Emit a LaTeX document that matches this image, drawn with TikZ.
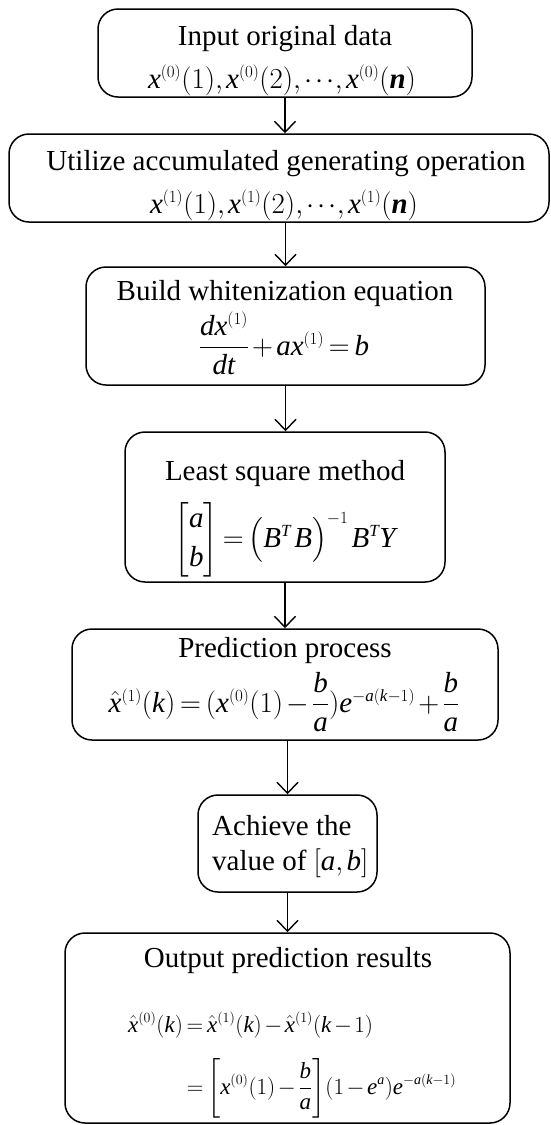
\RequirePackage{fix-cm}
\documentclass[tikz,border=0pt]{standalone}
\usepackage{amsmath}
\usepackage{fontspec}
\setmainfont{Liberation Serif}
\newfontfamily\timesfam{Liberation Serif}[NFSSFamily=mtimes]
\DeclareSymbolFont{operators}{TU}{mtimes}{m}{n}
\DeclareSymbolFont{tletters}{TU}{mtimes}{m}{it}
\DeclareSymbolFont{cmaccents}{OT1}{cmr}{m}{n}
\DeclareMathAccent{\hat}{\mathalpha}{cmaccents}{"5E}
\DeclareMathSizes{29}{29}{17}{13}
\DeclareMathSizes{23}{23}{14}{10}
\makeatletter
\def\tl@def#1{\ifx\relax#1\else\DeclareMathSymbol{#1}{\mathalpha}{tletters}{`#1}\expandafter\tl@def\fi}
\tl@def abcdefghijklmnopqrstuvwxyzABCDEFGHIJKLMNOPQRSTUVWXYZ\relax
\makeatother
\medmuskip=2mu plus 1mu minus 2mu
\thickmuskip=3mu plus 2mu
\thinmuskip=2mu
\usetikzlibrary{arrows.meta}
\begin{document}
\begin{tikzpicture}[x=1pt,y=-1pt,
  box/.style={draw, line width=1.5pt, rounded corners=20pt, inner sep=0pt},
  ttl/.style={anchor=base, inner sep=0pt, font=\fontsize{29}{35}\selectfont},
  frm/.style={anchor=base, inner sep=0pt, font=\fontsize{29}{35}\selectfont},
  arr/.style={line width=1.4pt, -{Straight Barb[length=11pt,width=21pt]}}]
\useasboundingbox (0,0) rectangle (550,1125);
% boxes
\node[box, minimum width=374pt, minimum height=88pt] (b1) at (285,53) {};
\node[box, minimum width=540pt, minimum height=88pt] (b2) at (279,178) {};
\node[box, minimum width=399pt, minimum height=118pt] (b3) at (285.5,326) {};
\node[box, minimum width=320pt, minimum height=150pt] (b4) at (285,507) {};
\node[box, minimum width=426pt, minimum height=111pt] (b5) at (285,684.5) {};
\node[box, minimum width=179pt, minimum height=97pt] (b6) at (287.5,843.5) {};
\node[box, minimum width=445pt, minimum height=190pt] (b7) at (287.5,1028) {};
% texts
\node[ttl] (t1) at (285,45) {Input original data};
\node[frm] (f1) at (282,88) {$x^{(0)}(1),x^{(0)}(2),{\cdots},x^{(0)}(\mbox{\bfseries\itshape n})$};
\node[ttl] (t2) at (286,170) {Utilize accumulated generating operation};
\node[frm] (f2) at (284,213) {$x^{(1)}(1),x^{(1)}(2),{\cdots},x^{(1)}(\mbox{\bfseries\itshape n})$};
\node[ttl] (t3) at (285,300) {Build whitenization equation};
\node[frm] (f3) at (284,355) {$\dfrac{dx^{(1)}}{dt}+ax^{(1)}=b$};
\node[ttl] (t4) at (285,480) {Least square method};
\node[frm] (f4) at (285,547) {$\begin{bmatrix}a\\[4pt] b\end{bmatrix}=\bigl(B^{T}\,B\bigr)^{-1}\,B^{T}Y$};
\node[ttl] (t5) at (285,657) {Prediction process};
\node[frm] (f5) at (284,712) {$\hat{x}^{(1)}(k)=(x^{(0)}(1)-\dfrac{b}{a})e^{-a(k-1)}+\dfrac{b}{a}$};
\node[anchor=north west, inner sep=0pt, align=left, font=\fontsize{29}{35}\selectfont] (t6) at (212,815) {Achieve the\\value of $[a,b]$};
\node[ttl] (t7) at (288,967) {Output prediction results};
\node[anchor=base west, inner sep=0pt, font=\fontsize{23}{28}\selectfont] (f7) at (128,1032)
  {$\begin{aligned}[t]\hat{x}^{(0)}(k)&=\hat{x}^{(1)}(k)-\hat{x}^{(1)}(k-1)\\[14pt]
  &=\left[x^{(0)}(1)-\dfrac{b}{a}\right]\!(1-e^{a})e^{-a(k-1)}\end{aligned}$};
% arrows
\draw[arr] (b1.south) -- (b1.south |- b2.north);
\draw[arr] (b3.north |- b2.south) -- (b3.north);
\draw[arr] (b3.south) -- (b3.south |- b4.north);
\draw[arr] (b4.south) -- (b4.south |- b5.north);
\draw[arr] (b6.north |- b5.south) -- (b6.north);
\draw[arr] (b6.south) -- (b6.south |- b7.north);
\end{tikzpicture}
\end{document}
